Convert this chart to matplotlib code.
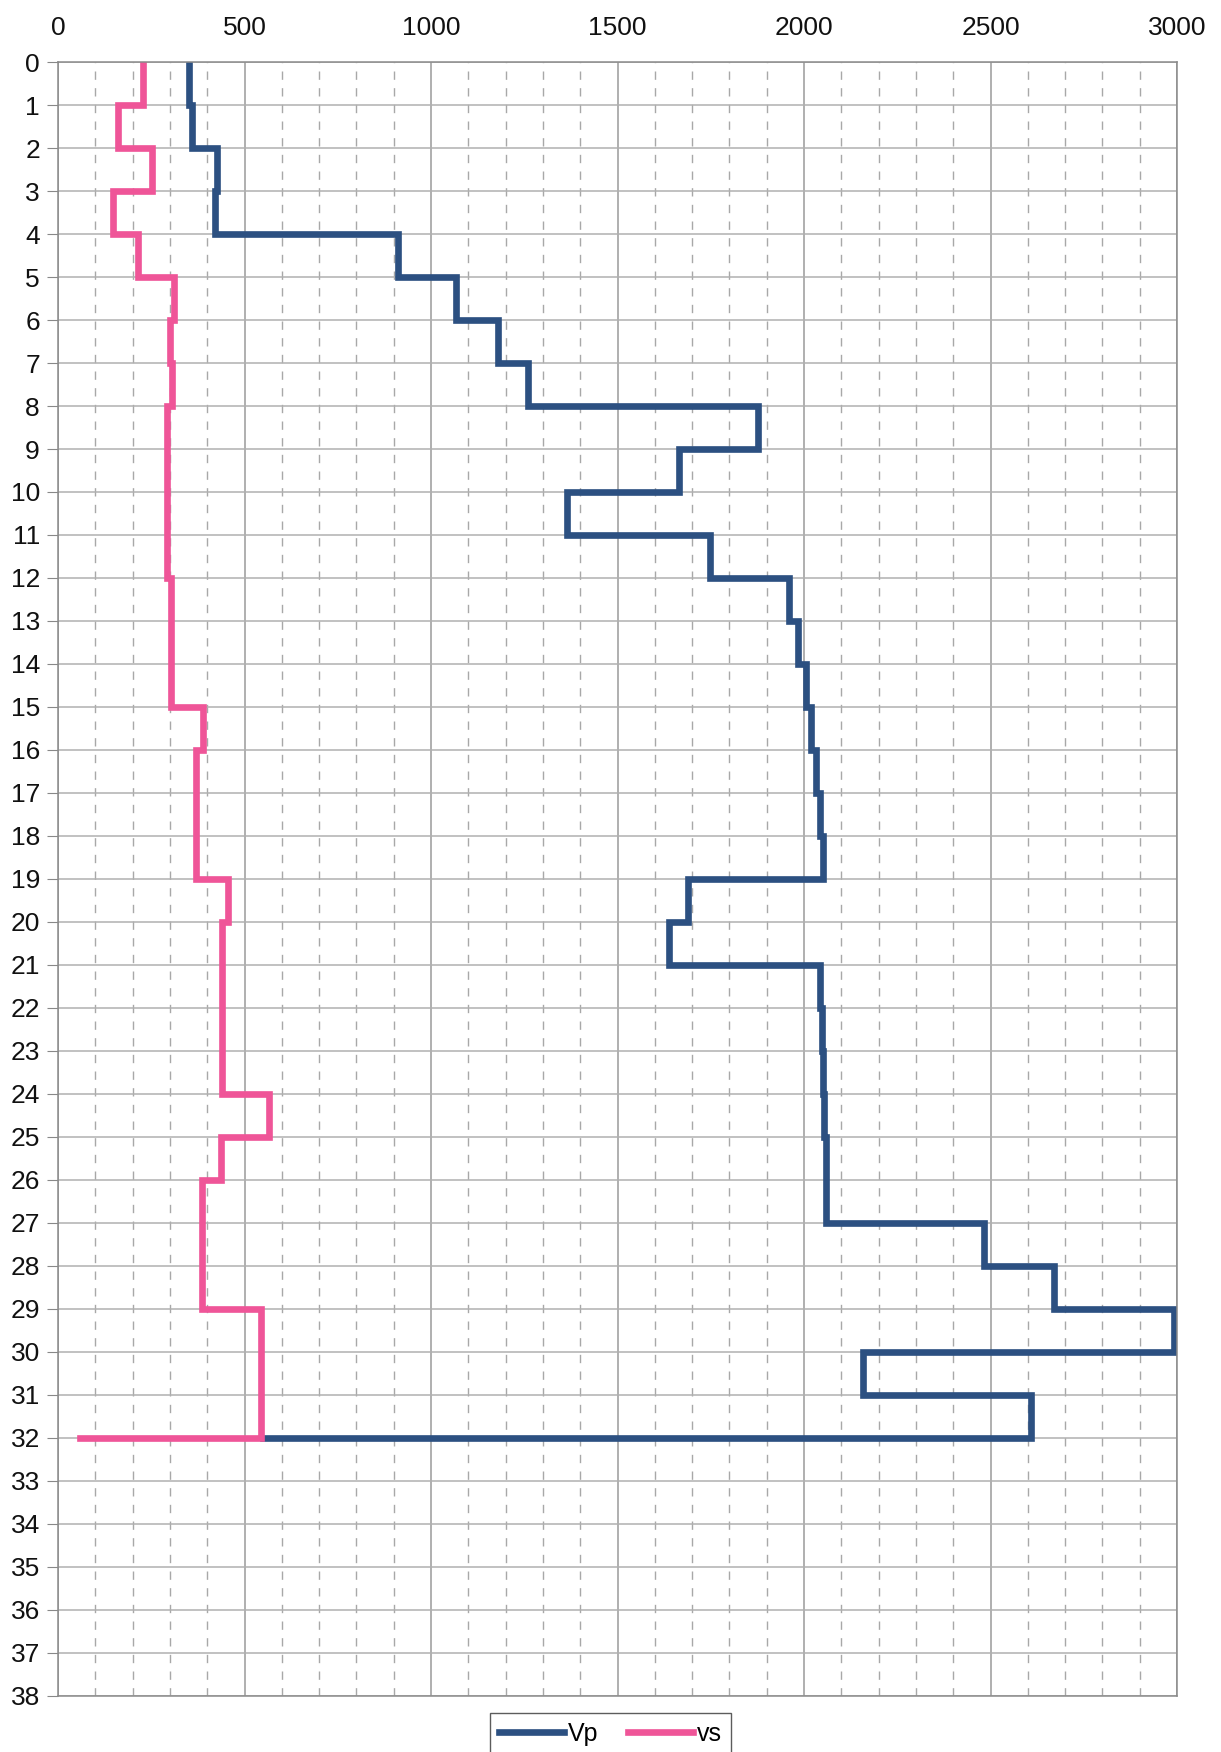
import numpy as np
import matplotlib
matplotlib.use("Agg")
import matplotlib.pyplot as plt
from matplotlib.ticker import MultipleLocator

# Profondeur des couches (m) : sommet de chaque couche
depth_top = list(range(0, 32))
depth_end = 32

# Vitesses par couche (m/s)
vp = [351, 358, 427, 421, 912, 1066, 1179, 1260, 1877, 1665,
      1364, 1748, 1960, 1984, 2004, 2020, 2032, 2043, 2051, 1689,
      1638, 2043, 2048, 2051, 2054, 2059, 2060, 2483, 2670, 2992,
      2158, 2609]
vs = [227, 162, 251, 148, 215, 311, 300, 305, 291, 291,
      291, 291, 302, 302, 302, 389, 369, 369, 369, 456,
      439, 439, 439, 439, 566, 436, 386, 386, 386, 543,
      543, 543]
vp_last = 550
vs_last = 60

x_ticks = [0, 500, 1000, 1500, 2000, 2500, 3000]
y_ticks = list(range(0, 39))


def step_profile(values, last):
    # profil en escalier : chaque valeur tenue sur sa couche
    tops = np.array(depth_top, dtype=float)
    bottoms = np.append(tops[1:], depth_end)
    y = np.column_stack([tops, bottoms]).ravel()
    x = np.repeat(values, 2).astype(float)
    y = np.append(y, depth_end)
    x = np.append(x, last)
    return x, y


plt.rcParams["font.family"] = ["Liberation Sans", "DejaVu Sans"]

fig = plt.figure(figsize=(12.21, 17.52), dpi=100)
ax = fig.add_axes([0.0475, 0.032, 0.9165, 0.9326])

# Grille
ax.xaxis.set_major_locator(MultipleLocator(500))
ax.xaxis.set_minor_locator(MultipleLocator(100))
ax.yaxis.set_major_locator(MultipleLocator(1))
ax.grid(which="major", axis="x", color="#9a9a9a", lw=1.1, ls="-")
ax.grid(which="minor", axis="x", color="#a8a8a8", lw=1.0, ls=(0, (6, 6)))
ax.grid(which="major", axis="y", color="#b0b0b0", lw=1.1, ls="-")
ax.set_axisbelow(True)

x_vp, y_vp = step_profile(vp, vp_last)
x_vs, y_vs = step_profile(vs, vs_last)
ax.plot(x_vp, y_vp, color="#2c5081", lw=4.8, solid_joinstyle="miter", label="Vp")
ax.plot(x_vs, y_vs, color="#ef5598", lw=4.8, solid_joinstyle="miter", label="vs")

ax.set_xlim(0, 3000)
ax.set_ylim(38, 0)
ax.set_xticks(x_ticks)
ax.set_yticks(y_ticks)

ax.xaxis.tick_top()
ax.tick_params(axis="x", which="major", labelsize=19, length=0, pad=16, labelcolor="#111111")
ax.tick_params(axis="x", which="minor", length=0)
ax.tick_params(axis="y", labelsize=19, length=8, color="#888888", pad=5, labelcolor="#111111")

for side in ["left", "right", "top", "bottom"]:
    ax.spines[side].set_color("#8a8a8a")
    ax.spines[side].set_linewidth(1.1)

leg = fig.legend(loc="center", bbox_to_anchor=(0.5, 0.0105), ncol=2, fontsize=18,
                 frameon=True, fancybox=False, edgecolor="#333333",
                 handlelength=2.6, handletextpad=0.15, columnspacing=1.2,
                 borderpad=0.35)
leg.get_frame().set_linewidth(1.0)

fig.savefig("out.png", dpi=100)
